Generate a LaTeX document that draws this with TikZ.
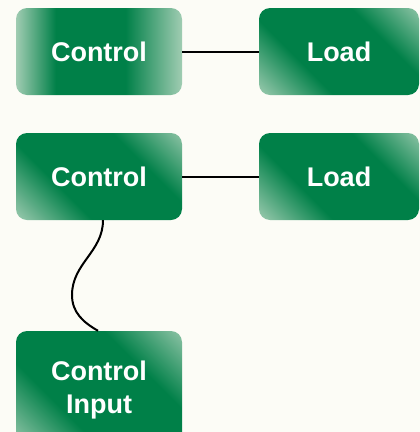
\documentclass[tikz,border=0pt]{standalone}
\usepackage{fontspec}
\setmainfont{Liberation Sans}
\usepackage{xcolor}
\definecolor{leafdark}{RGB}{0, 128, 72}
\definecolor{leaflight}{RGB}{160, 204, 178}
\definecolor{paper}{RGB}{252, 252, 246}
\usepackage{tikz}
\usetikzlibrary{positioning}
\pgfdeclarehorizontalshading{leafband}{100bp}{color(0bp)=(leaflight); color(25bp)=(leaflight); color(37bp)=(leafdark); color(58bp)=(leafdark); color(75bp)=(leaflight); color(100bp)=(leaflight)}
\pgfdeclarehorizontalshading{leafslant}{100bp}{color(0bp)=(leaflight); color(14bp)=(leaflight); color(36bp)=(leafdark); color(66bp)=(leafdark); color(88bp)=(leaflight); color(100bp)=(leaflight)}

\begin{document}
\begin{tikzpicture}[x=1pt, y=-1pt,
    blk/.style={rectangle, rounded corners=11pt, minimum width=166pt, minimum height=87pt, inner sep=0pt, text=white, font=\fontsize{27}{33}\selectfont\bfseries, align=center, shading=leafslant, shading angle=45},
    link/.style={line width=2pt, black}
  ]
    \fill[paper] (0,0) rectangle (420,432);
    \useasboundingbox (0,0) rectangle (420,432);

    \node[blk, shading=leafband, shading angle=0] (ctrla) at (99,51.5) {Control};
    \node[blk, minimum width=160pt] (loada) at (339,51.5) {Load};
    \node[blk] (ctrlb) at (99,176.5) {Control};
    \node[blk, minimum width=160pt] (loadb) at (339,176.5) {Load};
    \node[blk, minimum height=118pt] (ctin) at (99,390) {Control\\Input};

    \draw[link] (ctrla) -- (loada);
    \draw[link] (ctrlb) -- (loadb);
    \coordinate (sway) at (72,295);
    \draw[link] ([xshift=4pt]ctrlb.south) to[out=-90, in=90] (sway) to[out=-90, in=150] ([xshift=-1pt]ctin.north);
  \end{tikzpicture}
\end{document}
